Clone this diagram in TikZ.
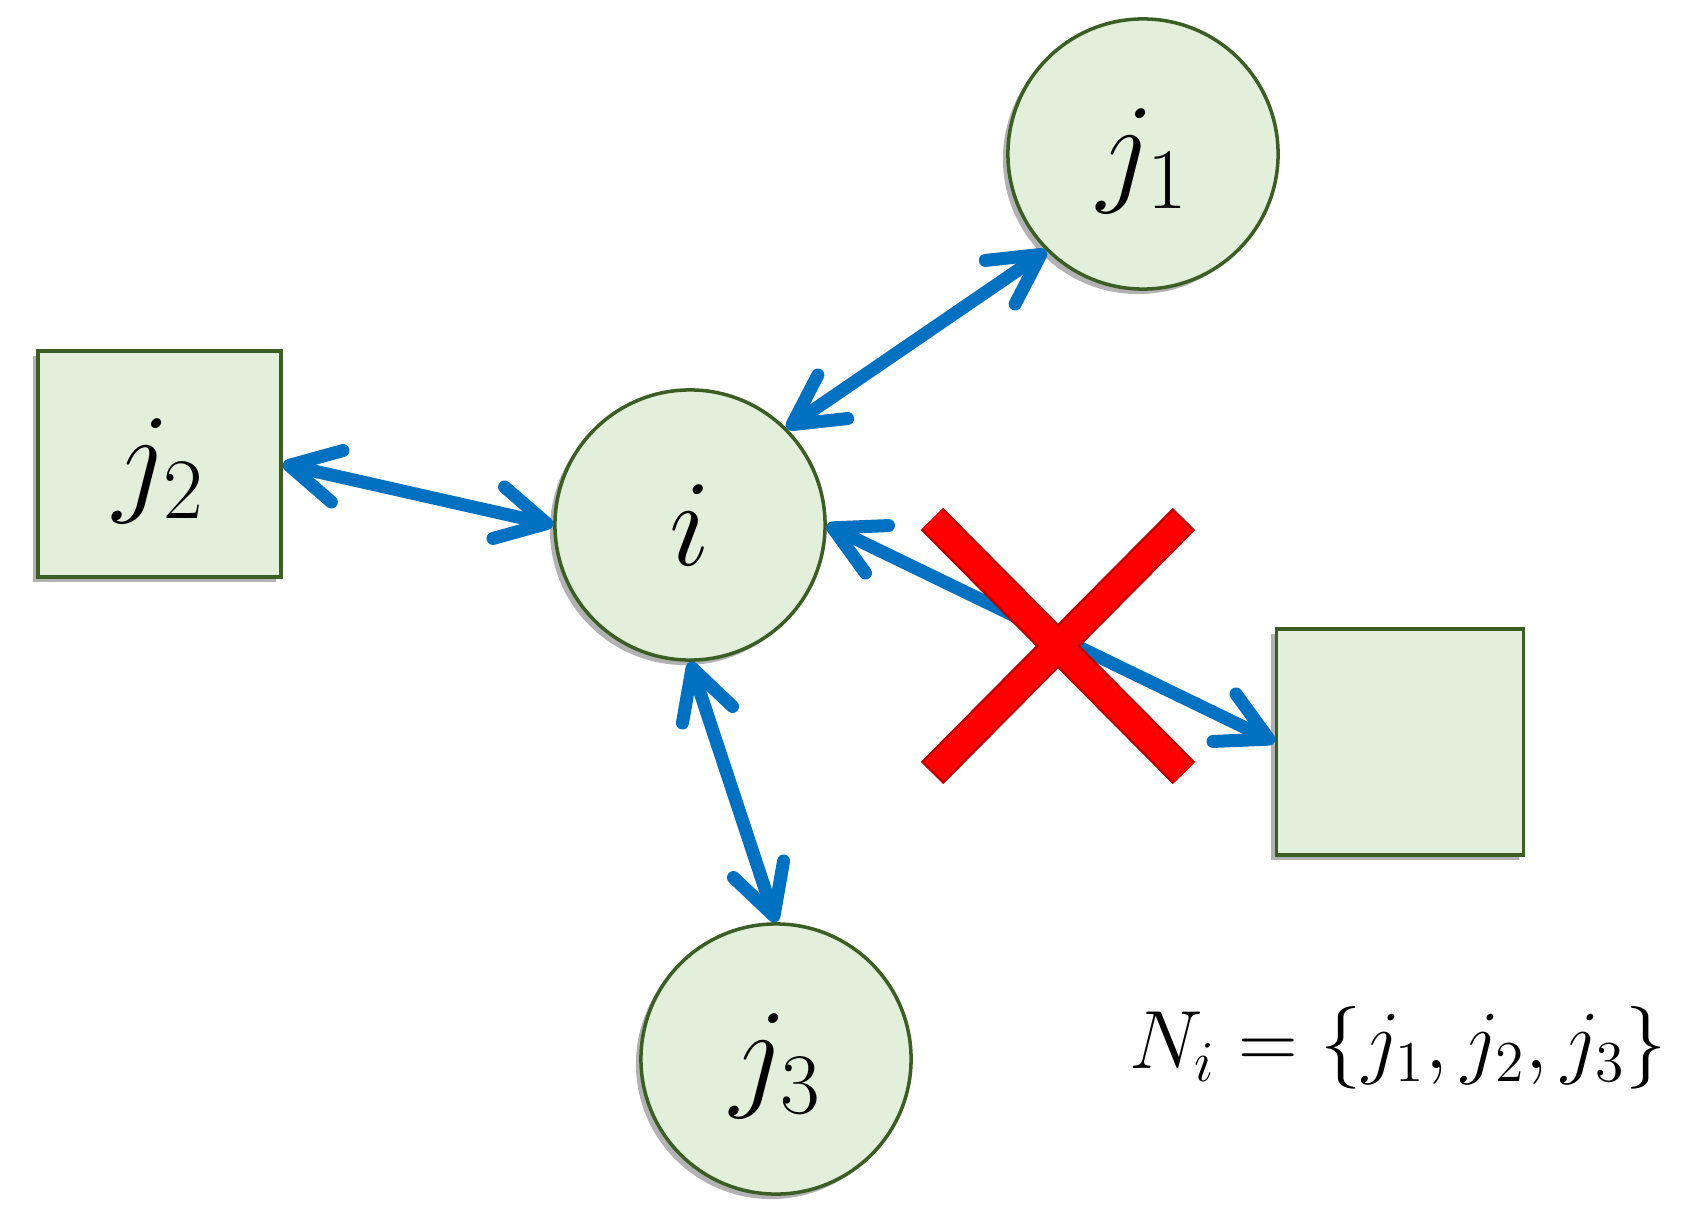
\documentclass[tikz,border=0pt]{standalone}
\usepackage{fix-cm}
\usetikzlibrary{arrows.meta,shadows}
\definecolor{nodefill}{HTML}{E2EFDA}
\definecolor{nodeline}{HTML}{3B5E25}
\definecolor{arrblue}{HTML}{0070C0}
\definecolor{xred}{HTML}{FF0000}
\definecolor{xdark}{HTML}{C00000}
\newcommand{\jlab}[1]{\raisebox{-0.29em}[0.5em][0.5em]{$#1$}}
\tikzset{
  nodebase/.style={fill=nodefill, draw=nodeline, line width=1pt,
    drop shadow={shadow xshift=-0.05cm, shadow yshift=-0.05cm, opacity=0.3, fill=black},
    font=\fontsize{35}{42}\selectfont},
  circnode/.style={nodebase, circle, minimum size=2.7cm, inner sep=0pt},
  sqnode/.style={nodebase, rectangle, inner sep=0pt},
  barbtip/.tip={Straight Barb[length=14pt,width=15pt,round]},
  arr/.style={draw=arrblue, line width=3.7pt, {barbtip}-{barbtip}},
}
\begin{document}
\begin{tikzpicture}[x=0.01cm, y=-0.01cm]
\path[use as bounding box] (0,0) rectangle (1686,1228);
\node[circnode] (i) at (690,525) {$i$};
\node[circnode] (j1) at (1143,154) {\jlab{j_1}};
\node[circnode] (j3) at (776,1059) {\jlab{j_3}};
\node[sqnode, minimum width=2.43cm, minimum height=2.26cm] (j2) at (159.5,464) {\jlab{j_2}};
\node[sqnode, minimum width=2.47cm, minimum height=2.26cm] (k) at (1400,742) {};
\node[font=\fontsize{23.5}{28}\selectfont] (f) at (1398,1048) {$N_i=\{j_1,j_2,j_3\}$};
\draw[arr] (j1.225) -- (i.45);
\draw[arr] (j2.east) -- (i.west);
\draw[arr] (i.south) -- (j3.north);
\draw[arr] (i.east) -- (k.west);
% red cross
\coordinate (xa) at (932,519);
\coordinate (xb) at (1184,773);
\coordinate (xc) at (1184,519);
\coordinate (xd) at (932,773);
\draw[draw=xdark, line width=9pt] (xa) -- (xb) (xc) -- (xd);
\draw[draw=xred, line width=7.6pt, shorten <=0.7pt, shorten >=0.7pt] (xa) -- (xb) (xc) -- (xd);
\end{tikzpicture}
\end{document}
